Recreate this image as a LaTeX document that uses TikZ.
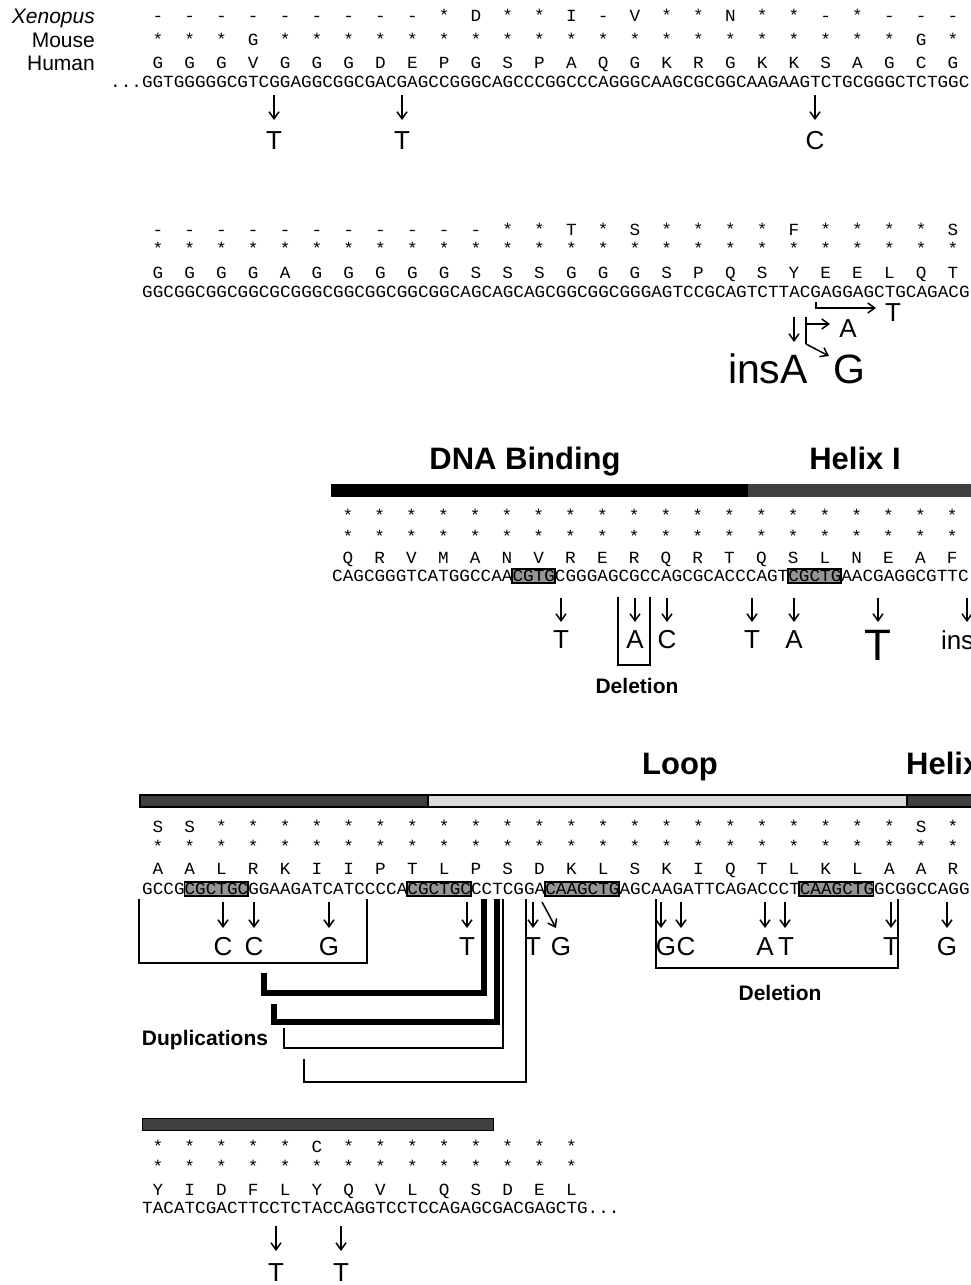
\documentclass[tikz,border=0pt]{standalone}
\usepackage{fontspec}
\setmainfont{Liberation Sans}
\newfontfamily\seqfont[FakeStretch=1.04]{Liberation Mono}
\usetikzlibrary{arrows.meta}
\newcommand\aarow[4]{%
  \foreach \aaL [count=\k from 0] in {#4} {%
    \node[aa] (#1-\k) at ({#2+10.6*(3*\k+1.5)},#3) {\aaL};%
  }}
\newcommand\hlbox[4]{%
  \filldraw[hl] ({#1+10.6*#2},#4-7) rectangle ({#1+10.6*(#3+1)},#4+7);}
\begin{document}
\begin{tikzpicture}[x=1pt,y=-1pt,
  aa/.style={inner sep=0pt,anchor=base,font=\seqfont\fontsize{17}{19}\selectfont},
  dna/.style={inner sep=0pt,anchor=base west,font=\seqfont\fontsize{17}{19}\selectfont},
  sp/.style={inner sep=0pt,anchor=base east,font=\fontsize{21}{24}\selectfont},
  mut/.style={inner sep=0pt,font=\fontsize{26}{30}\selectfont},
  bigmut/.style={inner sep=0pt,font=\fontsize{41}{45}\selectfont},
  region/.style={inner sep=0pt,anchor=base,font=\bfseries\fontsize{31}{35}\selectfont},
  note/.style={inner sep=0pt,anchor=base,font=\bfseries\fontsize{21}{24}\selectfont},
  arr/.style={line width=1.5pt,-{Straight Barb[length=7pt,width=10pt]}},
  thinline/.style={line width=1.4pt},
  dupline/.style={line width=6pt,line join=miter},
  hl/.style={fill=black!42,draw=black,line width=1.8pt},
  helix/.style={fill=black!75},
  loopbar/.style={fill=black!15},
]
\useasboundingbox (0,0) rectangle (971,1285);
\clip (0,0) rectangle (971,1285);

% ---------------- Block 1 ----------------
\node[sp,font=\itshape\fontsize{21}{24}\selectfont] (lx) at (95,23.5) {Xenopus};
\node[sp] (lm) at (95,47.5) {Mouse};
\node[sp] (lh) at (95,70.5) {Human};
\aarow{a1}{142}{21.6}{-,-,-,-,-,-,-,-,-,*,D,*,*,I,-,V,*,*,N,*,*,-,*,-,-,-}
\aarow{b1}{142}{45.6}{*,*,*,G,*,*,*,*,*,*,*,*,*,*,*,*,*,*,*,*,*,*,*,*,G,*}
\aarow{c1}{142}{68.6}{G,G,G,V,G,G,G,D,E,P,G,S,P,A,Q,G,K,R,G,K,K,S,A,G,C,G}
\node[dna] (d1) at (110,87.6) {...GGTGGGGGCGTCGGAGGCGGCGACGAGCCGGGCAGCCCGGCCCAGGGCAAGCGCGGCAAGAAGTCTGCGGGCTCTGGC};
\draw[arr] (274,95) -- (274,120);
\node[mut] (m11) at (274,141) {T};
\draw[arr] (402,95) -- (402,120);
\node[mut] (m12) at (402,141) {T};
\draw[arr] (815,95) -- (815,120);
\node[mut] (m13) at (815,141) {C};

% ---------------- Block 2 ----------------
\aarow{a2}{142}{235.6}{-,-,-,-,-,-,-,-,-,-,-,*,*,T,*,S,*,*,*,*,F,*,*,*,*,S}
\aarow{b2}{142}{254.6}{*,*,*,*,*,*,*,*,*,*,*,*,*,*,*,*,*,*,*,*,*,*,*,*,*,*}
\aarow{c2}{142}{278.6}{G,G,G,G,A,G,G,G,G,G,S,S,S,G,G,G,S,P,Q,S,Y,E,E,L,Q,T}
\node[dna] (d2) at (142,297.6) {GGCGGCGGCGGCGCGGGCGGCGGCGGCGGCAGCAGCAGCGGCGGCGGGAGTCCGCAGTCTTACGAGGAGCTGCAGACG};
\node[mut] (m21) at (893,313) {T};
\draw[arr] (816,302) -- (816,308) -- (876,308);
\draw[arr] (794,317) -- (794,342);
\draw[thinline] (806,317) -- (806,344);
\draw[arr] (806,324) -- (830,324);
\node[mut] (m22) at (848,329) {A};
\draw[arr] (806,344) -- (829,356);
\node[bigmut,anchor=base east] (m23) at (808,383) {insA};
\node[bigmut,anchor=base] (m24) at (849,383) {G};

% ---------------- Block 3 ----------------
\node[region] (t1) at (525,469) {DNA Binding};
\node[region] (t2) at (855,469) {Helix I};
\fill[black] (331,484) rectangle (748,497);
\fill[helix] (748,484) rectangle (972,497);
\aarow{a3}{332}{521.6}{*,*,*,*,*,*,*,*,*,*,*,*,*,*,*,*,*,*,*,*}
\aarow{b3}{332}{542.6}{*,*,*,*,*,*,*,*,*,*,*,*,*,*,*,*,*,*,*,*}
\aarow{c3}{332}{563.6}{Q,R,V,M,A,N,V,R,E,R,Q,R,T,Q,S,L,N,E,A,F}
\hlbox{332}{17}{20}{576}
\hlbox{332}{43}{47}{576}
\node[dna] (d3) at (332,581.6) {CAGCGGGTCATGGCCAACGTGCGGGAGCGCCAGCGCACCCAGTCGCTGAACGAGGCGTTC};
\foreach \xx/\ll [count=\i] in {561/T,635/A,667/C,752/T,794/A,967/insC} {
  \draw[arr] (\xx,598) -- (\xx,622);
  \node[mut] (m3-\i) at (\xx,640) {\ll};
}
\draw[arr] (878,598) -- (878,622);
\node[mut,font=\fontsize{44}{48}\selectfont] (m3big) at (878,645) {T};
\draw[thinline] (618,597) -- (618,665) -- (650,665) -- (650,597);
\node[note] (del1) at (637,693.5) {Deletion};

% ---------------- Block 4 ----------------
\node[region] (t3) at (680,774) {Loop};
\node[region,anchor=base west] (t4) at (906,774) {Helix};
\filldraw[helix,draw=black,line width=1.2pt] (140,795) rectangle (428,807);
\filldraw[loopbar,draw=black,line width=1.2pt] (428,795) rectangle (907,807);
\filldraw[helix,draw=black,line width=1.2pt] (907,795) rectangle (975,807);
\aarow{a4}{142}{832.6}{S,S,*,*,*,*,*,*,*,*,*,*,*,*,*,*,*,*,*,*,*,*,*,*,S,*}
\aarow{b4}{142}{852.6}{*,*,*,*,*,*,*,*,*,*,*,*,*,*,*,*,*,*,*,*,*,*,*,*,*,*}
\aarow{c4}{142}{874.6}{A,A,L,R,K,I,I,P,T,L,P,S,D,K,L,S,K,I,Q,T,L,K,L,A,A,R}
\hlbox{142}{4}{9}{889}
\hlbox{142}{25}{30}{889}
\hlbox{142}{38}{44}{889}
\hlbox{142}{62}{68}{889}
\node[dna] (d4) at (142,894.6) {GCCGCGCTGCGGAAGATCATCCCCACGCTGCCCTCGGACAAGCTGAGCAAGATTCAGACCCTCAAGCTGGCGGCCAGG};
\foreach \xx/\ll [count=\i] in {223/C,254/C,329/G,467/T,533/T,765/A,947/G} {
  \draw[arr] (\xx,902) -- (\xx,928);
  \node[mut] (m4-\i) at (\xx,947) {\ll};
}
\draw[arr] (785,902) -- (785,928);
\node[mut] (m4t) at (786,947) {T};
\draw[arr] (661,902) -- (661,928);
\draw[arr] (681,902) -- (681,928);
\node[mut] (m4g) at (666,947) {G};
\node[mut] (m4c) at (686,947) {C};
\draw[arr] (891,902) -- (891,928);
\node[mut] (m4t2) at (891,947) {T};
\draw[arr] (542,902) -- (556,928);
\node[mut] (m4g2) at (561,947) {G};
\draw[thinline] (139,899) -- (139,963) -- (367,963) -- (367,899);
\draw[thinline] (656,899) -- (656,968) -- (898,968) -- (898,899);
\node[note] (del2) at (780,1000.5) {Deletion};
\draw[dupline] (264,973) -- (264,993) -- (484,993) -- (484,899);
\draw[dupline] (274,1004) -- (274,1022) -- (497,1022) -- (497,899);
\draw[thinline] (284,1028) -- (284,1048) -- (503,1048) -- (503,899);
\draw[thinline] (304,1059) -- (304,1082) -- (526,1082) -- (526,899);
\node[note] (dup) at (205,1045.5) {Duplications};

% ---------------- Block 5 ----------------
\filldraw[helix,draw=black,line width=1pt] (142,1118) rectangle (493,1130);
\aarow{a5}{142}{1152.6}{*,*,*,*,*,C,*,*,*,*,*,*,*,*}
\aarow{b5}{142}{1172.6}{*,*,*,*,*,*,*,*,*,*,*,*,*,*}
\aarow{c5}{142}{1195.6}{Y,I,D,F,L,Y,Q,V,L,Q,S,D,E,L}
\node[dna] (d5) at (142,1213.6) {TACATCGACTTCCTCTACCAGGTCCTCCAGAGCGACGAGCTG...};
\draw[arr] (276,1226) -- (276,1251);
\node[mut] (m51) at (276,1273) {T};
\draw[arr] (341,1226) -- (341,1251);
\node[mut] (m52) at (341,1273) {T};
\end{tikzpicture}
\end{document}
